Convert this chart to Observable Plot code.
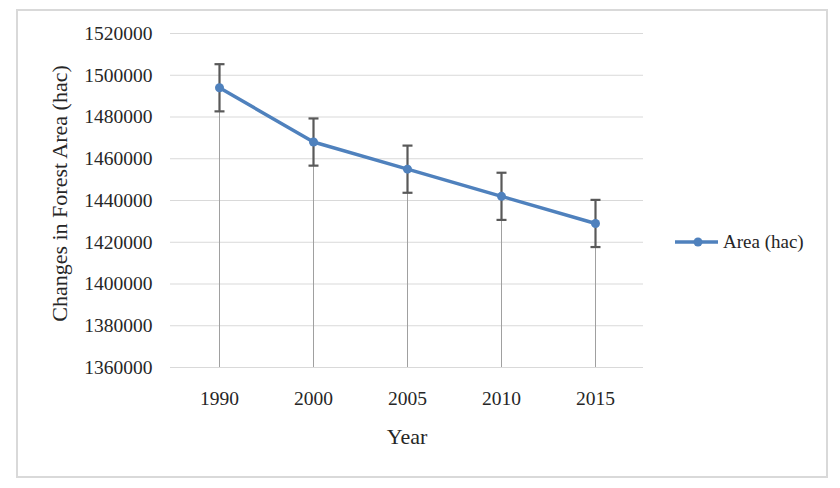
<!DOCTYPE html>
<html>
<head>
<meta charset="utf-8">
<script src="https://cdn.jsdelivr.net/npm/d3@7"></script>
<script src="https://cdn.jsdelivr.net/npm/@observablehq/plot@0.6"></script>
<style>
  html, body { margin: 0; padding: 0; background: #fff; }
  #wrap { position: relative; width: 840px; height: 488px; font-family: "Liberation Serif", "Times New Roman", serif; }
  #border { position: absolute; left: 16px; top: 9px; width: 808px; height: 465px; border: 2px solid #d9d9d9; pointer-events: none; }
  #legend { position: absolute; left: 674px; top: 231px; display: flex; align-items: center; font-size: 19px; color: #262626; }
  #legend svg { display: block; margin-right: 4px; }
</style>
</head>
<body>
<div id="wrap">
  <div id="chart"></div>
  <div id="border"></div>
  <div id="legend"><svg width="45" height="14"><line x1="1" y1="7" x2="44" y2="7" stroke="#4F81BD" stroke-width="3.5"/><circle cx="24" cy="7" r="4.5" fill="#4F81BD"/></svg><span>Area (hac)</span></div>
</div>
<script>
const years = ["1990", "2000", "2005", "2010", "2015"];
const area = [1494000, 1468000, 1455000, 1442000, 1429000];
const errorMargin = [11300, 11300, 11300, 11300, 11300];
const yTicks = [1360000, 1380000, 1400000, 1420000, 1440000, 1460000, 1480000, 1500000, 1520000];
const seriesName = "Area (hac)";
const xTitle = "Year";
const yTitle = "Changes in Forest Area (hac)";

const data = years.map((y, i) => ({year: y, value: area[i], lo: area[i] - errorMargin[i], hi: area[i] + errorMargin[i]}));
const yMin = yTicks[0];

const capSymbol = {
  draw(context, size) {
    const r = Math.sqrt(size / Math.PI);
    context.moveTo(-r, 0);
    context.lineTo(r, 0);
  }
};

const chart = Plot.plot({
  width: 840,
  height: 488,
  marginLeft: 170,
  marginRight: 197,
  marginTop: 33,
  marginBottom: 121,
  style: {fontFamily: "'Liberation Serif', 'Times New Roman', serif", background: "transparent", color: "#262626"},
  x: {type: "point", domain: years, padding: 0.5, label: null},
  y: {domain: [yTicks[0], yTicks[yTicks.length - 1]], label: null},
  marks: [
    Plot.ruleY(yTicks, {stroke: "#d9d9d9", strokeWidth: 1}),
    Plot.axisY({ticks: yTicks, tickFormat: d3.format("d"), tickSize: 0, tickPadding: 18, fontSize: 19.5, label: null}),
    Plot.axisX({tickSize: 0, tickPadding: 24, fontSize: 19.5, label: null}),
    Plot.ruleX(data, {x: "year", y1: yMin, y2: "value", stroke: "#a0a0a0", strokeWidth: 1}),
    Plot.ruleX(data, {x: "year", y1: "lo", y2: "hi", stroke: "#595959", strokeWidth: 2.2}),
    Plot.dot(data, {x: "year", y: "lo", symbol: capSymbol, r: 5, stroke: "#595959", strokeWidth: 2.2, fill: "none"}),
    Plot.dot(data, {x: "year", y: "hi", symbol: capSymbol, r: 5, stroke: "#595959", strokeWidth: 2.2, fill: "none"}),
    Plot.line(data, {x: "year", y: "value", stroke: "#4F81BD", strokeWidth: 3.5, strokeLinejoin: "round", strokeLinecap: "round"}),
    Plot.dot(data, {x: "year", y: "value", r: 4.5, fill: "#4F81BD", stroke: "none"}),
    Plot.text([xTitle], {frameAnchor: "bottom", dy: 76, fontSize: 22, fill: "#262626", textAnchor: "middle"}),
    Plot.text([yTitle], {frameAnchor: "left", dx: -111, dy: -7, rotate: -90, fontSize: 22, fill: "#262626", textAnchor: "middle"})
  ]
});
document.getElementById("chart").appendChild(chart);
</script>
</body>
</html>
